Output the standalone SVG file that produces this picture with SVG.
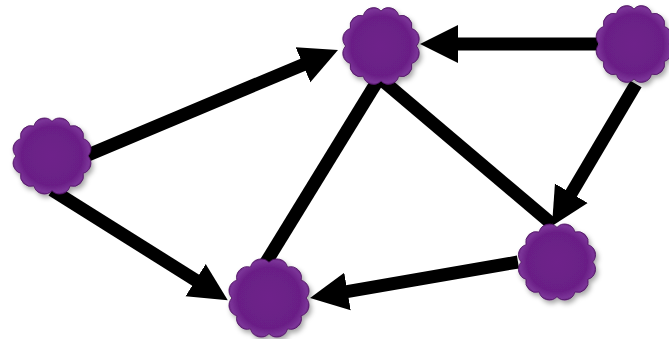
<svg xmlns="http://www.w3.org/2000/svg" width="669" height="339" viewBox="0 0 669 339">
<defs>
<style>
.edge{fill:none;stroke:#000;stroke-width:13}
.arr{marker-end:url(#ah)}
.cloud{fill:url(#cg);stroke:#4e1262;stroke-width:0.8;filter:url(#sh)}
</style>
<marker id="ah" markerUnits="userSpaceOnUse" markerWidth="42" markerHeight="42" refX="2" refY="21" orient="auto">
<path d="M0,2 L38,21 L0,40 Z" fill="#000"/>
</marker>
<radialGradient id="cg" cx="50%" cy="50%" r="55%">
<stop offset="0" stop-color="#6e228a"/>
<stop offset="0.72" stop-color="#6a1f86"/>
<stop offset="0.88" stop-color="#7b3598"/>
<stop offset="1" stop-color="#58166c"/>
</radialGradient>
<filter id="sh" x="-30%" y="-30%" width="160%" height="160%">
<feDropShadow dx="2" dy="3" stdDeviation="2.5" flood-color="#000" flood-opacity="0.35"/>
</filter>
<path id="cl" d="M34,0 A10,10 0 0 1 29.44,16.5 A10,10 0 0 1 17,28.58 A10,10 0 0 1 0,33 A10,10 0 0 1 -17,28.58 A10,10 0 0 1 -29.44,16.5 A10,10 0 0 1 -34,0 A10,10 0 0 1 -29.44,-16.5 A10,10 0 0 1 -17,-28.58 A10,10 0 0 1 0,-33 A10,10 0 0 1 17,-28.58 A10,10 0 0 1 29.44,-16.5 A10,10 0 0 1 34,0 Z"/>
</defs>
<g id="connectors">
<line class="edge arr" x1="88" y1="155" x2="304.8" y2="63.9"/>
<line class="edge arr" x1="52" y1="190" x2="197.3" y2="281.2"/>
<line class="edge arr" x1="598" y1="44" x2="456" y2="44"/>
<line class="edge arr" x1="636" y1="84" x2="570.3" y2="195"/>
<line class="edge arr" x1="518" y1="262" x2="345.5" y2="291.9"/>
<line class="edge" x1="378" y1="80" x2="265" y2="264"/>
<line class="edge" x1="382" y1="80" x2="552" y2="224"/>
</g>
<g id="node-top" transform="translate(381,46) scale(1.04,1.06)">
<use href="#cl" class="cloud"/>
</g>
<g id="node-left" transform="translate(52,156) scale(1.06,1.05)">
<use href="#cl" class="cloud"/>
</g>
<g id="node-bottom" transform="translate(269,298) scale(1.09,1.08)">
<use href="#cl" class="cloud"/>
</g>
<g id="node-topright" transform="translate(634,44) scale(1.03,1.06)">
<use href="#cl" class="cloud"/>
</g>
<g id="node-right" transform="translate(557,262) scale(1.05,1.05)">
<use href="#cl" class="cloud"/>
</g>
</svg>
